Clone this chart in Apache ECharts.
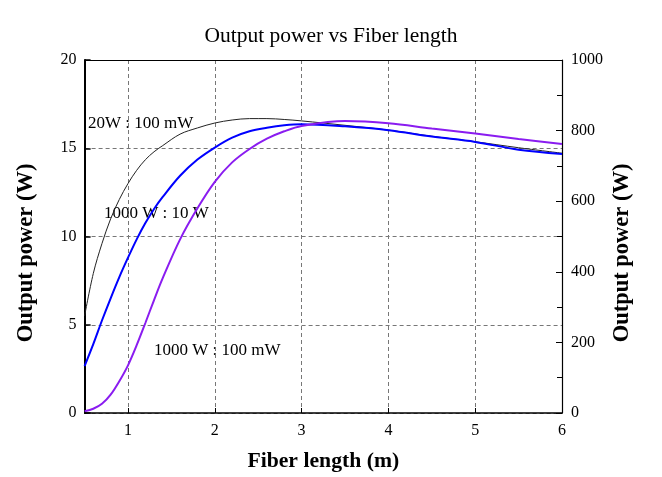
<!DOCTYPE html>
<html><head><meta charset="utf-8">
<script src="https://cdn.jsdelivr.net/npm/echarts@6/dist/echarts.min.js"></script>
<style>html,body{margin:0;padding:0;background:#fff}#c{width:662px;height:477px}</style>
</head><body><div id="c"></div>
<script>
const fiberLength = [0.5,0.6,0.7,0.8,0.9,1.0,1.1,1.2,1.3,1.4,1.6,1.8,2.0,2.2,2.4,2.6,2.8,3.0,3.5,4.0,4.5,5.0,5.5,6.0];
// 20 W : 100 mW (left axis, W)
const pow20W_100mW = [5.5,7.9,9.6,11.0,12.1,13.0,13.75,14.35,14.8,15.15,15.8,16.15,16.43,16.6,16.68,16.68,16.63,16.55,16.3,16.03,15.68,15.37,15.03,14.72];
// 1000 W : 10 W (right axis, W)
const pow1000W_10W = [133,195,262,325,385,440,492,538,578,612,672,718,752,780,798,808,815,818,812,801,783,768,746,734];
// 1000 W : 100 mW (right axis, W)
const pow1000W_100mW = [5,12,26,52,90,135,192,255,320,382,492,580,655,710,748,777,798,813,827,821,806,792,776,762];
const xTicks = [1,2,3,4,5,6];
const yLeftName = 'Output power (W)';
const yRightName = 'Output power (W)';

const pair = (ys) => fiberLength.map((x,i)=>[x, ys[i]]);
const serif = '"Liberation Serif","Times New Roman",serif';
const chart = echarts.init(document.getElementById('c'));
chart.setOption({
  animation:false,
  backgroundColor:'#fff',
  title:{text:'Output power vs Fiber length',left:'center',top:20,
    textStyle:{fontFamily:serif,fontSize:21.5,fontWeight:'normal',color:'#000'}},
  grid:{left:84.6,right:100,top:60,bottom:63},
  xAxis:[{
    type:'value',min:0.5,max:6,
    name:'Fiber length (m)',nameLocation:'middle',nameGap:37,
    nameTextStyle:{fontFamily:serif,fontSize:21.7,fontWeight:'bold',color:'#000'},
    axisLine:{show:true,onZero:false,lineStyle:{color:'#000',width:1.5}},
    axisTick:{show:true,inside:true,length:5,customValues:xTicks,lineStyle:{color:'#000'}},
    axisLabel:{customValues:xTicks,margin:10,fontFamily:serif,fontSize:16,color:'#000'},
    splitLine:{show:true,lineStyle:{color:'#777',type:[4,3],width:1}}
  },{
    type:'value',position:'top',min:0.5,max:6,
    axisLine:{show:true,onZero:false,lineStyle:{color:'#000',width:1.2}},
    axisTick:{show:false},axisLabel:{show:false},splitLine:{show:false}
  }],
  yAxis:[{
    type:'value',min:0,max:20,interval:5,
    axisLine:{show:true,onZero:false,lineStyle:{color:'#000',width:2}},
    axisTick:{show:true,inside:true,length:6,lineStyle:{color:'#000',width:1.5}},
    axisLabel:{margin:8,fontFamily:serif,fontSize:16,color:'#000'},
    splitLine:{show:true,lineStyle:{color:'#777',type:[4,3],width:1}}
  },{
    type:'value',min:0,max:1000,interval:200,position:'right',
    axisLine:{show:true,onZero:false,lineStyle:{color:'#000',width:1.2}},
    axisTick:{show:true,inside:true,length:6,lineStyle:{color:'#000'}},
    minorTick:{show:true,splitNumber:2,length:5,lineStyle:{color:'#000'}},
    axisLabel:{margin:9,fontFamily:serif,fontSize:16,color:'#000',formatter:(v)=>String(v)},
    splitLine:{show:false}
  }],
  series:[
    {type:'line',name:'20W : 100 mW',xAxisIndex:0,yAxisIndex:0,data:pair(pow20W_100mW),smooth:0.35,showSymbol:false,
      lineStyle:{color:'#222',width:1}},
    {type:'line',name:'1000 W : 10 W',xAxisIndex:0,yAxisIndex:1,data:pair(pow1000W_10W),smooth:0.35,showSymbol:false,
      lineStyle:{color:'#0000ff',width:2}},
    {type:'line',name:'1000 W : 100 mW',xAxisIndex:0,yAxisIndex:1,data:pair(pow1000W_100mW),smooth:0.35,showSymbol:false,
      lineStyle:{color:'#8a1cf0',width:2}}
  ],
  graphic:[
    {type:'text',left:88,top:115,style:{text:'20W : 100 mW',font:'17px '+serif,fill:'#000'}},
    {type:'text',left:104,top:205,style:{text:'1000 W : 10 W',font:'17px '+serif,fill:'#000'}},
    {type:'text',left:154,top:342,style:{text:'1000 W : 100 mW',font:'17px '+serif,fill:'#000'}},
    {type:'text',x:26,y:253,rotation:Math.PI/2,
      style:{text:yLeftName,font:'bold 22.5px '+serif,fill:'#000',align:'center',verticalAlign:'middle'}},
    {type:'text',x:622,y:253,rotation:Math.PI/2,
      style:{text:yRightName,font:'bold 22.5px '+serif,fill:'#000',align:'center',verticalAlign:'middle'}}
  ]
});
</script></body></html>
